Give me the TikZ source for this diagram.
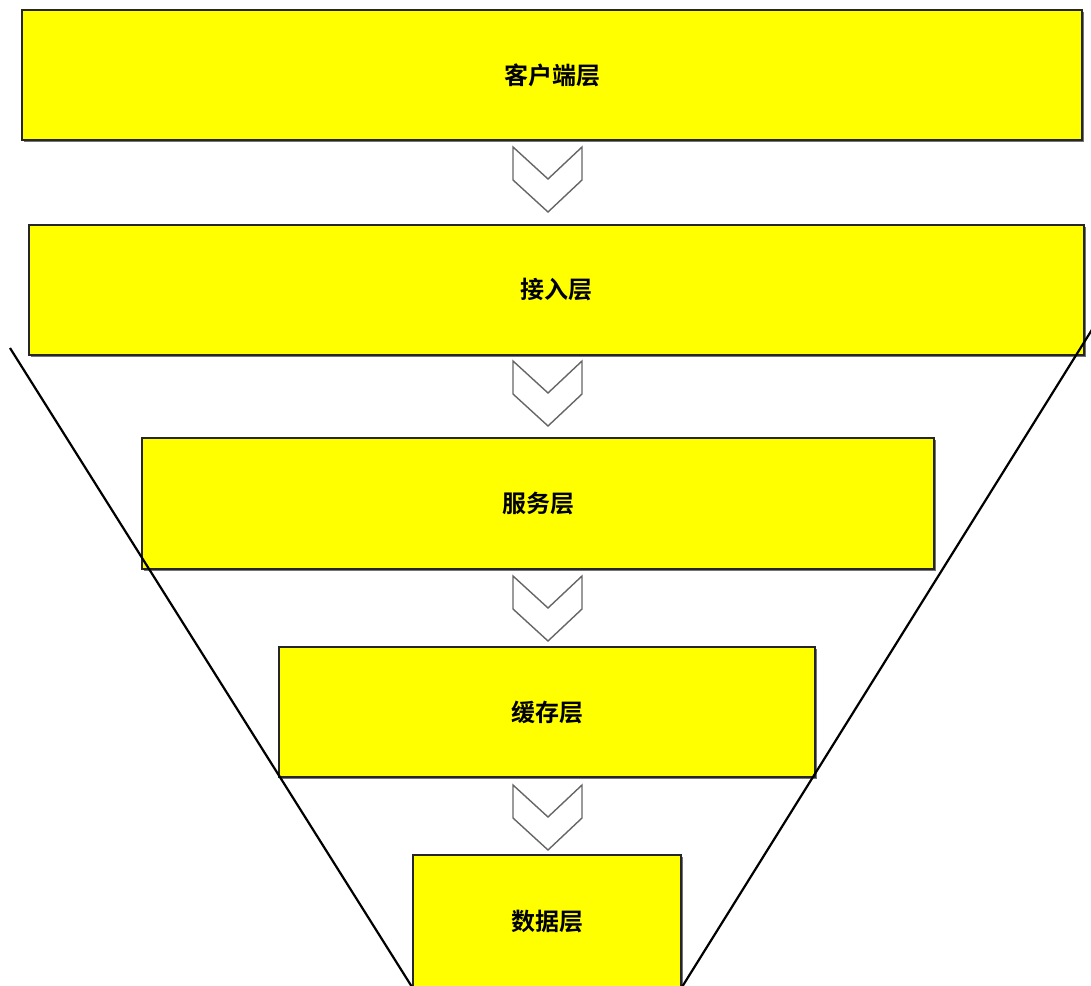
\documentclass[tikz,border=0pt]{standalone}
\usepackage{fontspec}
\usetikzlibrary{shadows}
\newfontfamily\cjk{Noto Sans CJK SC}[BoldFont={Noto Sans CJK SC Bold}]
\definecolor{layeryellow}{RGB}{255,255,0}

\tikzset{
  layer/.style={draw=black!85,line width=1.2pt,fill=layeryellow,inner sep=0pt,
    font=\cjk\bfseries\fontsize{24}{28}\selectfont,
    drop shadow={shadow xshift=1.6pt,shadow yshift=-1.6pt,fill=black!55,opacity=1}},
  chev/.pic={\draw[black!60,line width=1.4pt,fill=white,line join=miter]
    (-35,0)--(0,32)--(34,0)--(34,33)--(0,65)--(-35,33)--cycle;}
}

\begin{document}
\begin{tikzpicture}[x=1pt,y=-1pt]
\useasboundingbox (0,0) rectangle (1091,985);
% layers
\node[layer,minimum width=1060,minimum height=130] (client) at (552,75) {客户端层};
\node[layer,minimum width=1055,minimum height=130] (access) at (556.5,290) {接入层};
\node[layer,minimum width=792,minimum height=131] (service) at (538,503.5) {服务层};
\node[layer,minimum width=536,minimum height=130] (cache) at (547,712) {缓存层};
\node[layer,minimum width=268,minimum height=132] (data) at (547,921) {数据层};
% arrows between the layers
\coordinate (c1) at (548,147);
\coordinate (c2) at (548,361);
\coordinate (c3) at (548,576);
\coordinate (c4) at (548,785);
\foreach \c in {c1,c2,c3,c4} \pic at (\c) {chev};
% funnel
\coordinate (fl) at (10,348);
\coordinate (fr) at (1093,328);
\draw[line width=2.2pt] (fl) -- (data.south west);
\draw[line width=2.2pt] (fr) -- (data.south east);
\end{tikzpicture}
\end{document}
